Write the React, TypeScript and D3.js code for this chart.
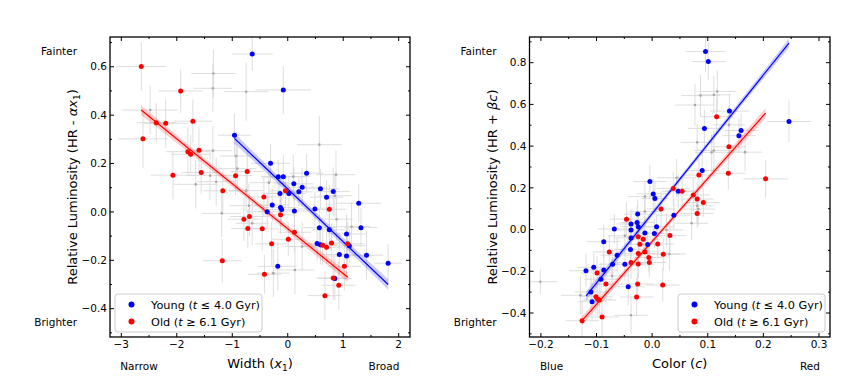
import React from 'react';
import * as d3 from 'd3';

// [x, y, xerr, yerr]
const widthYoung = [
  [-0.64, 0.653, 0.37, 0.07], [-0.08, 0.504, 0.5, 0.1], [-0.96, 0.317, 0.3, 0.09], [-0.31, 0.201, 0.35, 0.08],
  [-0.17, 0.145, 0.3, 0.07], [-0.08, 0.145, 0.4, 0.09], [0.34, 0.16, 0.3, 0.08], [0.11, 0.116, 0.35, 0.07],
  [0.26, 0.102, 0.3, 0.08], [0.2, 0.083, 0.25, 0.06], [0.02, 0.076, 0.3, 0.07], [-0.14, 0.076, 0.3, 0.06],
  [0.59, 0.096, 0.35, 0.08], [0.7, 0.061, 0.3, 0.07], [0.82, 0.084, 0.3, 0.1], [1.28, 0.036, 0.4, 0.08],
  [-0.28, 0.029, 0.3, 0.07], [-0.13, 0.018, 0.3, 0.06], [-0.11, 0.01, 0.25, 0.07], [0.12, 0.004, 0.3, 0.08],
  [-0.37, 0.001, 0.35, 0.07], [0.49, 0.012, 0.3, 0.07], [0.57, -0.065, 0.3, 0.08], [0.75, -0.074, 0.3, 0.07],
  [1.06, -0.091, 0.35, 0.08], [1.32, -0.065, 0.3, 0.08], [0.53, -0.131, 0.3, 0.07], [0.59, -0.136, 0.3, 0.08],
  [1.11, -0.14, 0.3, 0.07], [0.93, -0.176, 0.3, 0.09], [1.06, -0.182, 0.35, 0.08], [1.42, -0.179, 0.3, 0.1],
  [1.81, -0.212, 0.25, 0.08], [-0.18, -0.225, 0.35, 0.1], [0.85, -0.275, 0.3, 0.09],
];
const widthOld = [
  [-2.64, 0.601, 0.45, 0.1], [-1.93, 0.5, 0.4, 0.09], [-2.61, 0.302, 0.45, 0.12], [-2.37, 0.369, 0.35, 0.08],
  [-2.2, 0.366, 0.4, 0.1], [-1.71, 0.375, 0.35, 0.09], [-1.8, 0.249, 0.4, 0.1], [-1.75, 0.238, 0.35, 0.08],
  [-1.6, 0.255, 0.3, 0.09], [-2.07, 0.152, 0.4, 0.1], [-1.56, 0.163, 0.35, 0.09], [-0.94, 0.15, 0.3, 0.08],
  [-0.73, 0.167, 0.3, 0.09], [-1.17, 0.087, 0.35, 0.09], [-0.43, 0.062, 0.3, 0.08], [-0.04, 0.087, 0.3, 0.07],
  [-0.13, -0.012, 0.3, 0.08], [-0.69, -0.019, 0.35, 0.08], [-0.79, -0.03, 0.3, 0.09], [-0.72, -0.069, 0.3, 0.08],
  [-0.46, -0.07, 0.3, 0.09], [0.75, 0.011, 0.3, 0.1], [0.12, -0.084, 0.3, 0.08], [0.01, -0.113, 0.3, 0.07],
  [-0.29, -0.132, 0.3, 0.09], [0.79, -0.128, 0.3, 0.08], [0.63, -0.138, 0.25, 0.08], [0.7, -0.146, 0.3, 0.07],
  [1.08, -0.132, 0.3, 0.09], [-1.18, -0.202, 0.35, 0.09], [1.02, -0.225, 0.3, 0.1], [-0.42, -0.258, 0.3, 0.08],
  [0.82, -0.273, 0.3, 0.09], [0.92, -0.303, 0.3, 0.1], [0.67, -0.346, 0.3, 0.1],
];
const widthMid = [
  [-1.34, 0.572, 0.4, 0.1], [-1.35, 0.511, 0.35, 0.1], [-0.75, 0.497, 0.4, 0.12], [-2.48, 0.421, 0.5, 0.1],
  [0.57, 0.278, 0.4, 0.12], [-1.35, 0.253, 0.35, 0.1], [-0.93, 0.231, 0.3, 0.1], [-0.91, 0.179, 0.35, 0.09],
  [-1.4, 0.15, 0.4, 0.1], [-1.29, 0.125, 0.35, 0.1], [-1.66, 0.114, 0.4, 0.1], [0.1, 0.146, 0.3, 0.09],
  [-0.34, 0.121, 0.35, 0.09], [0.87, 0.154, 0.35, 0.1], [-0.75, 0.088, 0.3, 0.09], [-0.7, 0.026, 0.35, 0.09],
  [-1.19, -0.006, 0.35, 0.1], [-0.64, -0.047, 0.3, 0.09], [0.88, -0.03, 0.3, 0.09], [1.15, -0.061, 0.35, 0.1],
  [0.26, -0.143, 0.3, 0.1], [0.13, -0.24, 0.35, 0.1], [-0.26, -0.253, 0.3, 0.1], [0.85, 0.067, 0.3, 0.09],
];

const colorYoung = [
  [0.096, 0.853, 0.035, 0.1], [0.101, 0.805, 0.03, 0.09], [0.139, 0.568, 0.035, 0.08], [0.246, 0.518, 0.04, 0.1],
  [0.094, 0.485, 0.03, 0.09], [0.16, 0.475, 0.03, 0.08], [0.156, 0.45, 0.03, 0.08], [0.09, 0.283, 0.03, 0.09],
  [-0.004, 0.23, 0.03, 0.08], [0.002, 0.171, 0.03, 0.07], [0.005, 0.149, 0.025, 0.08], [0.047, 0.184, 0.03, 0.08],
  [0.039, 0.069, 0.03, 0.07], [-0.026, 0.074, 0.025, 0.07], [-0.027, 0.034, 0.03, 0.08], [-0.038, 0.027, 0.025, 0.07],
  [-0.025, 0.014, 0.03, 0.07], [0.008, 0.013, 0.03, 0.06], [-0.068, 0.003, 0.03, 0.07], [-0.038, -0.002, 0.025, 0.07],
  [-0.013, -0.016, 0.03, 0.08], [0.004, -0.019, 0.025, 0.07], [-0.038, -0.04, 0.03, 0.07], [-0.008, -0.072, 0.025, 0.06],
  [-0.087, -0.058, 0.03, 0.08], [-0.039, -0.096, 0.03, 0.07], [-0.063, -0.123, 0.03, 0.08], [-0.071, -0.166, 0.025, 0.07],
  [-0.049, -0.166, 0.03, 0.08], [-0.119, -0.197, 0.03, 0.08], [-0.105, -0.181, 0.03, 0.07], [-0.087, -0.194, 0.025, 0.08],
  [-0.092, -0.238, 0.03, 0.08], [-0.043, -0.274, 0.03, 0.09], [-0.11, -0.299, 0.03, 0.08], [-0.108, -0.346, 0.025, 0.09],
];
const colorOld = [
  [0.116, 0.541, 0.03, 0.09], [0.138, 0.397, 0.03, 0.08], [0.137, 0.27, 0.03, 0.08], [0.084, 0.261, 0.03, 0.08],
  [0.204, 0.243, 0.04, 0.09], [0.038, 0.197, 0.03, 0.08], [0.054, 0.184, 0.03, 0.07], [0.074, 0.166, 0.03, 0.08],
  [0.081, 0.146, 0.03, 0.08], [0.092, 0.13, 0.03, 0.07], [0.016, 0.099, 0.025, 0.08], [0.081, 0.077, 0.03, 0.07],
  [-0.046, 0.05, 0.03, 0.08], [-0.025, -0.035, 0.025, 0.07], [-0.016, -0.046, 0.03, 0.07], [0.032, -0.029, 0.03, 0.08],
  [-0.022, -0.07, 0.025, 0.07], [0.01, -0.069, 0.03, 0.07], [-0.077, -0.107, 0.03, 0.08], [-0.013, -0.107, 0.025, 0.07],
  [-0.025, -0.115, 0.03, 0.07], [0.02, -0.118, 0.03, 0.08], [-0.006, -0.134, 0.025, 0.07], [-0.005, -0.158, 0.03, 0.07],
  [-0.038, -0.158, 0.03, 0.08], [-0.025, -0.165, 0.025, 0.07], [-0.099, -0.208, 0.03, 0.08], [-0.083, -0.261, 0.03, 0.08],
  [-0.026, -0.261, 0.03, 0.08], [0.019, -0.266, 0.03, 0.08], [-0.028, -0.323, 0.03, 0.09], [-0.101, -0.322, 0.03, 0.08],
  [-0.098, -0.334, 0.025, 0.08], [-0.095, -0.338, 0.03, 0.08], [-0.09, -0.419, 0.03, 0.1], [-0.126, -0.437, 0.03, 0.1],
];
const colorMid = [
  [0.117, 0.662, 0.035, 0.1], [0.111, 0.646, 0.03, 0.09], [0.087, 0.642, 0.035, 0.1], [0.077, 0.597, 0.035, 0.1],
  [0.138, 0.502, 0.03, 0.09], [0.081, 0.418, 0.03, 0.09], [0.107, 0.37, 0.03, 0.09], [0.111, 0.379, 0.035, 0.1],
  [0.167, 0.371, 0.03, 0.09], [0.044, 0.248, 0.035, 0.09], [0.081, 0.114, 0.03, 0.08], [0.083, 0.098, 0.03, 0.08],
  [-0.013, 0.158, 0.03, 0.08], [-0.013, 0.086, 0.03, 0.08], [-0.049, -0.03, 0.03, 0.08], [0.026, -0.002, 0.03, 0.08],
  [0.071, 0.03, 0.03, 0.08], [0.031, -0.117, 0.03, 0.08], [-0.072, -0.222, 0.03, 0.08], [-0.038, -0.411, 0.03, 0.09],
  [-0.129, -0.315, 0.035, 0.09], [-0.201, -0.25, 0.03, 0.06],
];

// fit lines: [xStart, xEnd], [yStart, yEnd], band half-width at start/mid/end
const widthFitYoung = { x: [-0.96, 1.81], y: [0.304, -0.3], hw: [0.022, 0.014, 0.022] };
const widthFitOld = { x: [-2.643, 1.081], y: [0.421, -0.27], hw: [0.02, 0.012, 0.02] };
const colorFitYoung = { x: [-0.1186, 0.246], y: [-0.318, 0.894], hw: [0.022, 0.012, 0.022] };
const colorFitOld = { x: [-0.126, 0.204], y: [-0.437, 0.558], hw: [0.022, 0.012, 0.024] };

const widthXTicks = [-3, -2, -1, 0, 1, 2];
const widthXMinor = [-2.5, -1.5, -0.5, 0.5, 1.5];
const widthYTicks = [-0.4, -0.2, 0, 0.2, 0.4, 0.6];
const widthYMinor = [-0.5, -0.3, -0.1, 0.1, 0.3, 0.5, 0.7];
const colorXTicks = [-0.2, -0.1, 0, 0.1, 0.2, 0.3];
const colorXMinor = [-0.15, -0.05, 0.05, 0.15, 0.25];
const colorYTicks = [-0.4, -0.2, 0, 0.2, 0.4, 0.6, 0.8];
const colorYMinor = [-0.5, -0.3, -0.1, 0.1, 0.3, 0.5, 0.7, 0.9];

const FONT = 'DejaVu Sans, sans-serif';
const BLUE = '#0000ff';
const RED = '#ff0000';
const ERR = '#d4d4d4';

const minus = (s: string) => s.replace('-', '\u2212');

function Panel(props: any) {
  const { left, right, top, bottom, xDomain, yDomain, xTicks, xMinor, yTicks, yMinor, xFmt,
    young, old, mid, fitYoung, fitOld, xLabel, yLabel, lowText, highText, legendX } = props;
  const x = d3.scaleLinear().domain(xDomain).range([left, right]);
  const y = d3.scaleLinear().domain(yDomain).range([bottom, top]);
  const clipId = 'clip' + left;

  const band = (f: any) => {
    const xm = (f.x[0] + f.x[1]) / 2;
    const ym = (f.y[0] + f.y[1]) / 2;
    const pts = [[f.x[0], f.y[0], f.hw[0]], [xm, ym, f.hw[1]], [f.x[1], f.y[1], f.hw[2]]];
    return d3.area<any>().x(d => x(d[0])).y0(d => y(d[1] - d[2])).y1(d => y(d[1] + d[2]))
      .curve(d3.curveNatural)(pts) as string;
  };

  const errBars = (pts: number[][], key: string) => pts.map((p, i) => (
    <g key={key + i} stroke={ERR} strokeWidth={1} opacity={0.75}>
      <line x1={x(p[0] - p[2])} x2={x(p[0] + p[2])} y1={y(p[1])} y2={y(p[1])} />
      <line x1={x(p[0])} x2={x(p[0])} y1={y(p[1] - p[3])} y2={y(p[1] + p[3])} />
    </g>
  ));

  const tickLen = 4, minorLen = 2;
  const mid_x = (left + right) / 2, mid_y = (top + bottom) / 2;

  return (
    <g fontFamily={FONT}>
      <defs>
        <clipPath id={clipId}><rect x={left} y={top} width={right - left} height={bottom - top} /></clipPath>
      </defs>
      <g clipPath={`url(#${clipId})`}>
        {errBars(mid, 'm')}
        {errBars(young, 'y')}
        {errBars(old, 'o')}
        {mid.map((p: number[], i: number) => <circle key={'mc' + i} cx={x(p[0])} cy={y(p[1])} r={1.3} fill="#a8a8a8" />)}
        <path d={band(fitYoung)} fill={BLUE} opacity={0.2} />
        <path d={band(fitOld)} fill={RED} opacity={0.2} />
        <line x1={x(fitYoung.x[0])} y1={y(fitYoung.y[0])} x2={x(fitYoung.x[1])} y2={y(fitYoung.y[1])} stroke={BLUE} strokeWidth={1.2} />
        <line x1={x(fitOld.x[0])} y1={y(fitOld.y[0])} x2={x(fitOld.x[1])} y2={y(fitOld.y[1])} stroke={RED} strokeWidth={1.2} />
        {young.map((p: number[], i: number) => <circle key={'yc' + i} cx={x(p[0])} cy={y(p[1])} r={2.5} fill={BLUE} />)}
        {old.map((p: number[], i: number) => <circle key={'oc' + i} cx={x(p[0])} cy={y(p[1])} r={2.5} fill={RED} />)}
      </g>

      {/* legend */}
      <g>
        <rect x={legendX} y={294} width={147} height={38} rx={3} fill="white" fillOpacity={0.8} stroke="#cccccc" strokeWidth={1} />
        <circle cx={legendX + 16.5} cy={304.5} r={3} fill={BLUE} />
        <circle cx={legendX + 16.5} cy={321.5} r={3} fill={RED} />
        <text x={legendX + 36} y={308.5} fontSize={11.3}>Young (<tspan fontStyle="italic">t</tspan> ≤ 4.0 Gyr)</text>
        <text x={legendX + 36} y={326} fontSize={11.3}>Old (<tspan fontStyle="italic">t</tspan> ≥ 6.1 Gyr)</text>
      </g>

      {/* ticks, inward on all four sides */}
      <g stroke="black" strokeWidth={1}>
        {xTicks.map((t: number) => (
          <g key={'xt' + t}>
            <line x1={x(t)} x2={x(t)} y1={bottom} y2={bottom - tickLen} />
            <line x1={x(t)} x2={x(t)} y1={top} y2={top + tickLen} />
          </g>
        ))}
        {xMinor.map((t: number) => (
          <g key={'xm' + t}>
            <line x1={x(t)} x2={x(t)} y1={bottom} y2={bottom - minorLen} />
            <line x1={x(t)} x2={x(t)} y1={top} y2={top + minorLen} />
          </g>
        ))}
        {yTicks.map((t: number) => (
          <g key={'yt' + t}>
            <line x1={left} x2={left + tickLen} y1={y(t)} y2={y(t)} />
            <line x1={right} x2={right - tickLen} y1={y(t)} y2={y(t)} />
          </g>
        ))}
        {yMinor.map((t: number) => (
          <g key={'ym' + t}>
            <line x1={left} x2={left + minorLen} y1={y(t)} y2={y(t)} />
            <line x1={right} x2={right - minorLen} y1={y(t)} y2={y(t)} />
          </g>
        ))}
      </g>
      <rect x={left} y={top} width={right - left} height={bottom - top} fill="none" stroke="black" strokeWidth={1.3} />

      {xTicks.map((t: number) => (
        <text key={'xl' + t} x={x(t)} y={bottom + 11} fontSize={10.5} textAnchor="middle">{minus(xFmt(t))}</text>
      ))}
      {yTicks.map((t: number) => (
        <text key={'yl' + t} x={left - 3} y={y(t)} dy="0.35em" fontSize={10.5} textAnchor="end">{minus(d3.format('.1f')(t))}</text>
      ))}

      <text x={mid_x} y={bottom + 31} fontSize={13} textAnchor="middle">{xLabel}</text>
      <text transform={`translate(${left - 33},${mid_y}) rotate(-90)`} fontSize={13} textAnchor="middle">{yLabel}</text>

      <text x={left - 33} y={55} fontSize={10.5} textAnchor="end">Fainter</text>
      <text x={left - 33} y={326} fontSize={10.5} textAnchor="end">Brighter</text>
      <text x={left + lowText[1]} y={370} fontSize={10.5} textAnchor="middle">{lowText[0]}</text>
      <text x={right + highText[1]} y={370} fontSize={10.5} textAnchor="middle">{highText[0]}</text>
    </g>
  );
}

export default function App() {
  return (
    <svg width={860} height={391} style={{ position: 'absolute', left: 0, top: 0, background: 'white' }}>
      <rect width={860} height={391} fill="white" />
      <Panel
        left={110} right={410} top={37} bottom={337}
        xDomain={[-3.204, 2.204]} yDomain={[-0.517, 0.723]}
        xTicks={widthXTicks} xMinor={widthXMinor} yTicks={widthYTicks} yMinor={widthYMinor}
        xFmt={d3.format('d')}
        young={widthYoung} old={widthOld} mid={widthMid}
        fitYoung={widthFitYoung} fitOld={widthFitOld}
        xLabel={<>Width (<tspan fontStyle="italic">x</tspan><tspan fontSize={9} dy={3}>1</tspan><tspan dy={-3}>)</tspan></>}
        yLabel={<>Relative Luminosity (HR - <tspan fontStyle="italic">αx</tspan><tspan fontSize={9} dy={3}>1</tspan><tspan dy={-3}>)</tspan></>}
        lowText={['Narrow', 29]} highText={['Broad', -26]}
        legendX={115}
      />
      <Panel
        left={529.5} right={830} top={37} bottom={337}
        xDomain={[-0.2205, 0.3198]} yDomain={[-0.515, 0.923]}
        xTicks={colorXTicks} xMinor={colorXMinor} yTicks={colorYTicks} yMinor={colorYMinor}
        xFmt={d3.format('.1f')}
        young={colorYoung} old={colorOld} mid={colorMid}
        fitYoung={colorFitYoung} fitOld={colorFitOld}
        xLabel={<>Color (<tspan fontStyle="italic">c</tspan>)</>}
        yLabel={<>Relative Luminosity (HR + <tspan fontStyle="italic">βc</tspan>)</>}
        lowText={['Blue', 22]} highText={['Red', -20]}
        legendX={678}
      />
    </svg>
  );
}
